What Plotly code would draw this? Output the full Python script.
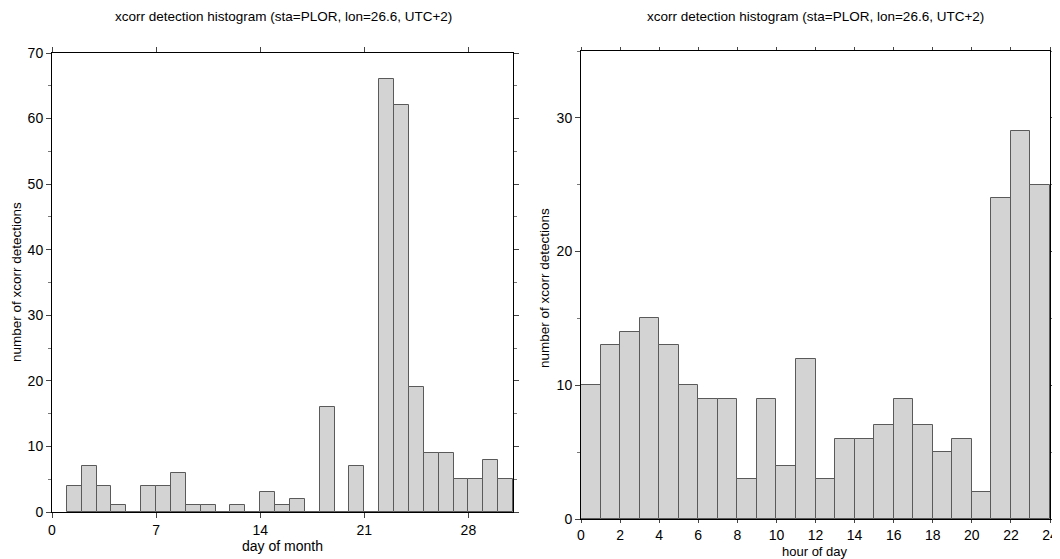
import plotly.graph_objects as go

# ---- data ----
day_bin_start = list(range(1, 31))
day_counts = [4, 7, 4, 1, 0, 4, 4, 6, 1, 1, 0, 1, 0, 3, 1, 2, 0, 16, 0, 7,
              0, 66, 62, 19, 9, 9, 5, 5, 8, 5]
hour_bin_start = list(range(0, 24))
hour_counts = [10, 13, 14, 15, 13, 10, 9, 9, 3, 9, 4, 12, 3, 6, 6, 7, 9, 7,
               5, 6, 2, 24, 29, 25]
title_text = "xcorr detection histogram (sta=PLOR, lon=26.6, UTC+2)"
day_ticks = [0, 7, 14, 21, 28]
hour_ticks = list(range(0, 25, 2))

FONT = "Liberation Sans, Arial, Helvetica, sans-serif"
FILL = "#d3d3d3"
EDGE = "#5a5a5a"

# page has an 8px body margin: figure placed at (8, 8)
OFF = 8
W, H = 1060 - OFF, 559 - OFF

def fx(p):
    return (p - OFF) / W
def fy(p):
    return 1 - (p - OFF) / H
def px_x(a, b):
    return [fx(a), fx(b)]
def px_y(top, bottom):
    return [fy(bottom), fy(top)]

fig = go.Figure()
fig.add_trace(go.Bar(x=[d + 0.5 for d in day_bin_start], y=day_counts, width=1,
                     marker=dict(color=FILL, line=dict(color=EDGE, width=1)),
                     xaxis="x", yaxis="y", showlegend=False, hoverinfo="x+y"))
fig.add_trace(go.Bar(x=[h + 0.5 for h in hour_bin_start], y=hour_counts, width=1,
                     marker=dict(color=FILL, line=dict(color=EDGE, width=1)),
                     xaxis="x2", yaxis="y2", showlegend=False, hoverinfo="x+y"))

base = dict(showgrid=False, zeroline=False, showline=True, linecolor="black",
            linewidth=1, mirror="ticks", ticks="outside",
            tickcolor="#444", tickwidth=1,
            tickfont=dict(family=FONT, size=14, color="black"))

ann = []
for cx in (283, 815):
    ann.append(dict(text=title_text, x=fx(cx), y=fy(17), xref="paper", yref="paper",
                    showarrow=False, font=dict(family=FONT, size=13.5),
                    xanchor="center", yanchor="middle"))
ann.append(dict(text="day of month", x=fx(282), y=fy(546), xref="paper", yref="paper",
                showarrow=False, font=dict(family=FONT, size=14),
                xanchor="center", yanchor="middle"))
ann.append(dict(text="hour of day", x=fx(815), y=fy(551), xref="paper", yref="paper",
                showarrow=False, font=dict(family=FONT, size=13),
                xanchor="center", yanchor="middle"))
ann.append(dict(text="number of xcorr detections", x=fx(17), y=fy(282), xref="paper", yref="paper",
                showarrow=False, font=dict(family=FONT, size=13.5), textangle=-90,
                xanchor="center", yanchor="middle"))
ann.append(dict(text="number of xcorr detections", x=fx(544), y=fy(288), xref="paper", yref="paper",
                showarrow=False, font=dict(family=FONT, size=13.5), textangle=-90,
                xanchor="center", yanchor="middle"))

fig.update_layout(
    width=W, height=H, margin=dict(l=0, r=0, t=0, b=0, autoexpand=False),
    plot_bgcolor="white", paper_bgcolor="white", bargap=0, barmode="overlay",
    font=dict(family=FONT, size=12, color="black"),
    xaxis=dict(domain=px_x(52, 513), range=[0, 31], tickmode="array", tickvals=day_ticks,
               ticklen=5, anchor="y", **base),
    yaxis=dict(domain=px_y(53, 512), range=[0, 70], dtick=10, ticklen=5,
               minor=dict(dtick=5, ticks="outside", ticklen=3, tickcolor="#777"),
               anchor="x", **base),
    xaxis2=dict(domain=px_x(581, 1050), range=[0, 24], tickmode="array", tickvals=hour_ticks,
                ticklen=3, anchor="y2", **base),
    yaxis2=dict(domain=px_y(51, 519), range=[0, 35], dtick=10, ticklen=5,
                minor=dict(dtick=5, ticks="outside", ticklen=3, tickcolor="#777"),
                anchor="x2", **base),
    annotations=ann,
)

fig.write_html("out.html")
